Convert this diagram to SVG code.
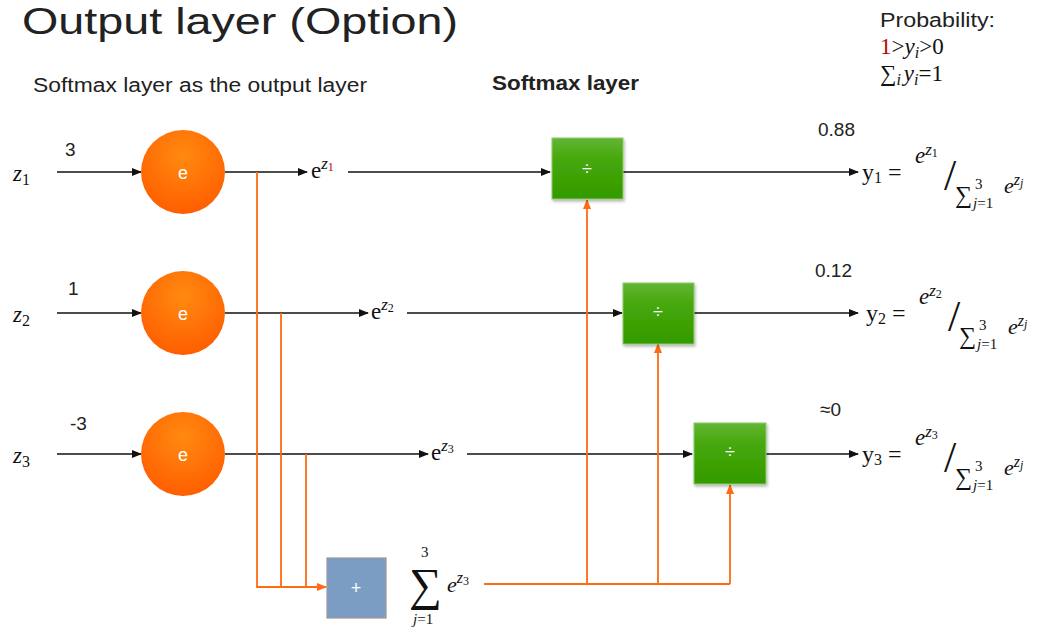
<svg xmlns="http://www.w3.org/2000/svg" width="1038" height="627" viewBox="0 0 1038 627">
  <style>
    .sans { font-family: "Liberation Sans", Arial, sans-serif; fill: #222; }
    .math { font-family: "Liberation Serif", "Times New Roman", serif; fill: #111; }
    .it { font-style: italic; }
    .wire { stroke: #111; stroke-width: 1.6; fill: none; }
    .owire { stroke: #FF6A13; stroke-width: 1.8; fill: none; }
    .lbl { font-family: "Liberation Sans", Arial, sans-serif; font-size: 18px; fill: #fff; text-anchor: middle; }
  </style>
  <defs>
    <radialGradient id="gOrange" cx="0.5" cy="0.3" r="0.7">
      <stop offset="0" stop-color="#FF8A10"/>
      <stop offset="1" stop-color="#FF5E00"/>
    </radialGradient>
    <linearGradient id="gGreen" x1="0" y1="0" x2="0" y2="1">
      <stop offset="0" stop-color="#62B535"/>
      <stop offset="0.35" stop-color="#46A80A"/>
      <stop offset="1" stop-color="#339A00"/>
    </linearGradient>
    <filter id="shadow" x="-20%" y="-20%" width="140%" height="140%">
      <feDropShadow dx="1" dy="2" stdDeviation="1.5" flood-color="#000" flood-opacity="0.3"/>
    </filter>
    <marker id="aBlack" markerWidth="10" markerHeight="10" refX="9" refY="5" orient="auto" markerUnits="userSpaceOnUse">
      <path d="M0,1 L10,5 L0,9 Z" fill="#111"/>
    </marker>
    <marker id="aOrange" markerWidth="10" markerHeight="10" refX="9" refY="5" orient="auto" markerUnits="userSpaceOnUse">
      <path d="M0,1 L10,5 L0,9 Z" fill="#FF6A13"/>
    </marker>
  </defs>

  <!-- headings -->
  <text class="sans" x="22" y="34" font-size="37" fill="#111" textLength="436" lengthAdjust="spacingAndGlyphs">Output layer (Option)</text>
  <text class="sans" x="33" y="92" font-size="20" textLength="334" lengthAdjust="spacingAndGlyphs">Softmax layer as the output layer</text>
  <text class="sans" x="492" y="90" font-size="20" font-weight="bold" textLength="147" lengthAdjust="spacingAndGlyphs">Softmax layer</text>

  <!-- probability constraints -->
  <g id="probability">
    <text class="sans" x="880" y="27" font-size="20" textLength="115" lengthAdjust="spacingAndGlyphs">Probability:</text>
    <text class="math" x="880" y="54" font-size="23"><tspan fill="#C00000">1</tspan>&gt;<tspan class="it">y</tspan><tspan class="it" font-size="16" dy="4">i</tspan><tspan dy="-4">&gt;0</tspan></text>
    <text class="math" x="880" y="81" font-size="23">∑<tspan class="it" font-size="16" dy="4">i</tspan><tspan class="it" dy="-4" dx="3">y</tspan><tspan class="it" font-size="16" dy="4">i</tspan><tspan dy="-4">=1</tspan></text>
  </g>

  <!-- connectors -->
  <g id="connectors">
    <!-- inputs into exp nodes -->
    <line class="wire" x1="57" y1="172" x2="141" y2="172" marker-end="url(#aBlack)"/>
    <line class="wire" x1="57" y1="313" x2="141" y2="313" marker-end="url(#aBlack)"/>
    <line class="wire" x1="57" y1="454" x2="141" y2="454" marker-end="url(#aBlack)"/>
    <!-- exp outputs -->
    <line class="wire" x1="225" y1="172" x2="307" y2="172" marker-end="url(#aBlack)"/>
    <line class="wire" x1="348" y1="172" x2="550" y2="172" marker-end="url(#aBlack)"/>
    <line class="wire" x1="225" y1="313" x2="368" y2="313" marker-end="url(#aBlack)"/>
    <line class="wire" x1="407" y1="313" x2="622" y2="313" marker-end="url(#aBlack)"/>
    <line class="wire" x1="225" y1="454" x2="428" y2="454" marker-end="url(#aBlack)"/>
    <line class="wire" x1="467" y1="454" x2="692" y2="454" marker-end="url(#aBlack)"/>
    <!-- division outputs -->
    <line class="wire" x1="623" y1="172" x2="858" y2="172" marker-end="url(#aBlack)"/>
    <line class="wire" x1="694" y1="313" x2="858" y2="313" marker-end="url(#aBlack)"/>
    <line class="wire" x1="766" y1="454" x2="858" y2="454" marker-end="url(#aBlack)"/>
    <!-- branches into the sum node -->
    <polyline class="owire" points="257,172 257,587 326,587" marker-end="url(#aOrange)"/>
    <line class="owire" x1="281" y1="313" x2="281" y2="587"/>
    <line class="owire" x1="306" y1="454" x2="306" y2="587"/>
    <!-- sum distributed to the dividers -->
    <line class="owire" x1="484" y1="584" x2="730" y2="584"/>
    <line class="owire" x1="587" y1="584" x2="587" y2="200" marker-end="url(#aOrange)"/>
    <line class="owire" x1="658" y1="584" x2="658" y2="344" marker-end="url(#aOrange)"/>
    <line class="owire" x1="730" y1="584" x2="730" y2="485" marker-end="url(#aOrange)"/>
  </g>

  <!-- input labels and weights -->
  <g id="inputs">
    <text class="math it" x="13" y="181" font-size="23">z<tspan font-size="16" dy="4" font-style="normal">1</tspan></text>
    <text class="math it" x="13" y="322" font-size="23">z<tspan font-size="16" dy="4" font-style="normal">2</tspan></text>
    <text class="math it" x="13" y="463" font-size="23">z<tspan font-size="16" dy="4" font-style="normal">3</tspan></text>
    <text class="sans" x="65" y="156" font-size="19">3</text>
    <text class="sans" x="68" y="295" font-size="19">1</text>
    <text class="sans" x="70" y="430" font-size="19">-3</text>
  </g>

  <!-- exponential nodes -->
  <g id="exp1"><circle cx="183" cy="172" r="42" fill="url(#gOrange)"/><text class="lbl" x="183" y="179">e</text></g>
  <g id="exp2"><circle cx="183" cy="313" r="42" fill="url(#gOrange)"/><text class="lbl" x="183" y="320">e</text></g>
  <g id="exp3"><circle cx="183" cy="454" r="42" fill="url(#gOrange)"/><text class="lbl" x="183" y="461">e</text></g>

  <!-- exp value labels -->
  <g id="expvals">
    <text class="math" x="311" y="178" font-size="23">e<tspan class="it" font-size="17" dy="-9">z</tspan><tspan font-size="12" dy="2" fill="#C00000">1</tspan></text>
    <text class="math" x="371" y="319" font-size="23">e<tspan class="it" font-size="17" dy="-9">z</tspan><tspan font-size="12" dy="2">2</tspan></text>
    <text class="math" x="431" y="460" font-size="23">e<tspan class="it" font-size="17" dy="-9">z</tspan><tspan font-size="12" dy="2">3</tspan></text>
  </g>

  <!-- division nodes -->
  <g id="div1"><rect x="552" y="138" width="71" height="61" fill="url(#gGreen)" stroke="#8CCB6A" stroke-width="1" filter="url(#shadow)"/><text class="lbl" x="587" y="175" font-size="15" fill="#DDEFD0">÷</text></g>
  <g id="div2"><rect x="623" y="283" width="71" height="61" fill="url(#gGreen)" stroke="#8CCB6A" stroke-width="1" filter="url(#shadow)"/><text class="lbl" x="658" y="318" font-size="15" fill="#DDEFD0">÷</text></g>
  <g id="div3"><rect x="694" y="423" width="72" height="61" fill="url(#gGreen)" stroke="#8CCB6A" stroke-width="1" filter="url(#shadow)"/><text class="lbl" x="730" y="458" font-size="15" fill="#DDEFD0">÷</text></g>

  <!-- sum node -->
  <g id="sum">
    <rect x="327" y="558" width="59" height="60" fill="#7B9DC3" stroke="#9A9A9A" stroke-width="1.2"/>
    <text class="lbl" x="356" y="594" font-size="16" fill="#D8E4F2">+</text>
  </g>
  <g id="sumlabel">
    <text class="math" x="421" y="557" font-size="15">3</text>
    <text class="math" x="409" y="600" font-size="46">∑</text>
    <text class="math" x="413" y="624" font-size="15"><tspan class="it">j</tspan>=1</text>
    <text class="math it" x="447" y="592" font-size="22">e<tspan font-size="16" dy="-9">z</tspan><tspan font-size="12" dy="2" font-style="normal">3</tspan></text>
  </g>

  <!-- output values -->
  <g id="values">
    <text class="sans" x="818" y="136" font-size="19">0.88</text>
    <text class="sans" x="815" y="277" font-size="19">0.12</text>
    <text class="sans" x="820" y="416" font-size="19">≈0</text>
  </g>

  <!-- output formulas -->
  <g id="out1">
    <text class="math" x="862" y="180" font-size="24">y<tspan font-size="16" dy="3">1</tspan><tspan dy="-3" dx="6">=</tspan></text>
    <text class="math it" x="915" y="163" font-size="23">e<tspan font-size="17" dy="-8">z</tspan><tspan font-size="12" dy="2" font-style="normal">1</tspan></text>
    <text class="math" x="944" y="190" font-size="44">/</text>
    <text class="math" x="955" y="203" font-size="24">∑</text>
    <text class="math" x="975" y="189" font-size="15">3</text>
    <text class="math" x="973" y="208" font-size="15"><tspan class="it">j</tspan>=1</text>
    <text class="math it" x="1004" y="193" font-size="22">e<tspan font-size="16" dy="-8">z</tspan><tspan font-size="12" dy="2">j</tspan></text>
  </g>
  <g id="out2">
    <text class="math" x="866" y="321" font-size="24">y<tspan font-size="16" dy="3">2</tspan><tspan dy="-3" dx="6">=</tspan></text>
    <text class="math it" x="919" y="304" font-size="23">e<tspan font-size="17" dy="-8">z</tspan><tspan font-size="12" dy="2" font-style="normal">2</tspan></text>
    <text class="math" x="948" y="331" font-size="44">/</text>
    <text class="math" x="959" y="344" font-size="24">∑</text>
    <text class="math" x="979" y="330" font-size="15">3</text>
    <text class="math" x="977" y="349" font-size="15"><tspan class="it">j</tspan>=1</text>
    <text class="math it" x="1008" y="334" font-size="22">e<tspan font-size="16" dy="-8">z</tspan><tspan font-size="12" dy="2">j</tspan></text>
  </g>
  <g id="out3">
    <text class="math" x="862" y="462" font-size="24">y<tspan font-size="16" dy="3">3</tspan><tspan dy="-3" dx="6">=</tspan></text>
    <text class="math it" x="915" y="445" font-size="23">e<tspan font-size="17" dy="-8">z</tspan><tspan font-size="12" dy="2" font-style="normal">3</tspan></text>
    <text class="math" x="944" y="472" font-size="44">/</text>
    <text class="math" x="955" y="485" font-size="24">∑</text>
    <text class="math" x="975" y="471" font-size="15">3</text>
    <text class="math" x="973" y="490" font-size="15"><tspan class="it">j</tspan>=1</text>
    <text class="math it" x="1004" y="475" font-size="22">e<tspan font-size="16" dy="-8">z</tspan><tspan font-size="12" dy="2">j</tspan></text>
  </g>
</svg>
